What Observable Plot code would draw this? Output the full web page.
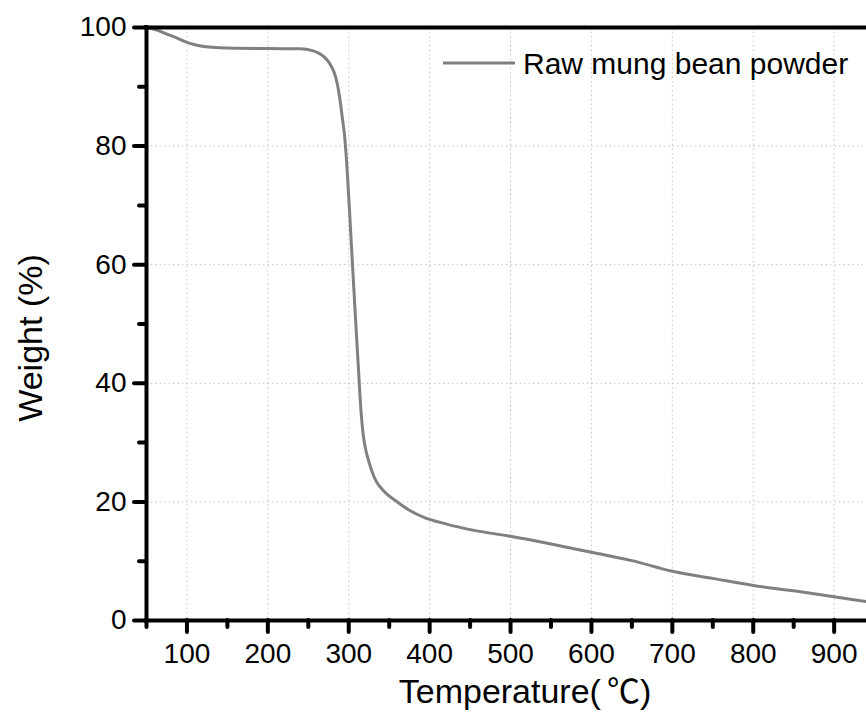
<!DOCTYPE html>
<html><head><meta charset="utf-8">
<script src="https://cdn.jsdelivr.net/npm/d3@7"></script>
<script src="https://cdn.jsdelivr.net/npm/@observablehq/plot@0.6"></script>
<style>body{margin:0;background:#fff} svg{display:block}</style>
</head><body><div id="chart"></div>
<script>
const temperature = [50, 62, 75, 88, 100, 110, 121, 140, 160, 200, 240, 255, 261, 270, 277, 282, 286, 289, 292, 295, 298, 301, 304, 308, 312, 315, 318, 321, 324, 328, 333, 345, 358, 375, 393, 420, 455, 500, 550, 600, 650, 700, 750, 800, 850, 900, 940];
const weight = [100, 99.6, 98.9, 98.2, 97.5, 97.1, 96.8, 96.6, 96.5, 96.45, 96.4, 96.1, 95.8, 95.0, 93.8, 92.4, 90.4, 88.0, 84.8, 81.5, 76.0, 69.0, 61.5, 51.8, 42.4, 35.6, 31.2, 28.8, 27.2, 25.4, 23.7, 21.6, 20.2, 18.6, 17.4, 16.3, 15.2, 14.2, 12.9, 11.5, 10.1, 8.3, 7.1, 5.9, 5.0, 4.0, 3.2];
const seriesName = "Raw mung bean powder";
const xMajorTicks = [100, 200, 300, 400, 500, 600, 700, 800, 900];
const xMinorTicks = [50, 150, 250, 350, 450, 550, 650, 750, 850];
const yMajorTicks = [0, 20, 40, 60, 80, 100];
const yMinorTicks = [10, 30, 50, 70, 90];
const yGrid = [20, 40, 60, 80];
const xLabelMain = "Temperature(";
const xLabelUnit = "\u2103";
const xLabelEnd = ")";
const yLabel = "Weight (%)";

const data = temperature.map((t, i) => ({t, w: weight[i]}));
const font = "'Liberation Sans', Arial, 'Noto Sans CJK SC', sans-serif";
const axisW = 4;

const plot = Plot.plot({
  width: 866, height: 712,
  marginLeft: 146, marginRight: 0, marginTop: 27, marginBottom: 92,
  x: {domain: [50, 940]},
  y: {domain: [0, 100]},
  style: {fontFamily: font, background: "white", color: "black", overflow: "visible"},
  marks: [
    Plot.gridX(xMajorTicks, {stroke: "#c4c4c4", strokeOpacity: 1, strokeWidth: 1, strokeDasharray: "1.5,3"}),
    Plot.gridY(yGrid, {stroke: "#c4c4c4", strokeOpacity: 1, strokeWidth: 1, strokeDasharray: "1.5,3"}),
    Plot.line(data, {x: "t", y: "w", stroke: "#808080", strokeWidth: 3, curve: "monotone-x"}),
    Plot.axisX(xMinorTicks, {anchor: "bottom", tickSize: 7, strokeWidth: axisW, strokeLinecap: "round", tickFormat: () => "", label: null}),
    Plot.axisX(xMajorTicks, {anchor: "bottom", tickSize: 12, strokeWidth: axisW, strokeLinecap: "round", tickPadding: 11, fontSize: 28, label: null}),
    Plot.axisY(yMinorTicks, {anchor: "left", tickSize: 7, strokeWidth: axisW, strokeLinecap: "round", tickFormat: () => "", label: null}),
    Plot.axisY(yMajorTicks, {anchor: "left", tickSize: 12, strokeWidth: axisW, strokeLinecap: "round", tickPadding: 8, fontSize: 28, label: null}),
    Plot.ruleY([0], {stroke: "black", strokeWidth: axisW, strokeLinecap: "square"}),
    Plot.ruleY([100], {stroke: "black", strokeWidth: axisW, strokeLinecap: "square"}),
    Plot.ruleX([50], {stroke: "black", strokeWidth: axisW, strokeLinecap: "square"})
  ]
});

const svg = d3.select(plot);
// legend
svg.append("line").attr("x1", 443).attr("x2", 515).attr("y1", 63).attr("y2", 63)
  .attr("stroke", "#808080").attr("stroke-width", 3);
svg.append("text").attr("x", 523).attr("y", 63).attr("dy", "0.36em").attr("text-anchor", "start")
  .attr("font-size", 30).attr("fill", "black").attr("font-family", font).text(seriesName);
// axis titles
const xt = svg.append("text").attr("x", 525).attr("y", 703).attr("text-anchor", "middle")
  .attr("font-size", 34).attr("fill", "black").attr("font-family", font);
xt.append("tspan").text(xLabelMain);
xt.append("tspan").attr("dx", 6).attr("font-family", "'Noto Sans CJK SC', sans-serif").attr("font-size", 33).text(xLabelUnit);
xt.append("tspan").text(xLabelEnd);
svg.append("text").attr("transform", "translate(42,338) rotate(-90)").attr("text-anchor", "middle")
  .attr("font-size", 34).attr("fill", "black").attr("font-family", font).text(yLabel);

document.getElementById("chart").appendChild(plot);
</script>
</body></html>
